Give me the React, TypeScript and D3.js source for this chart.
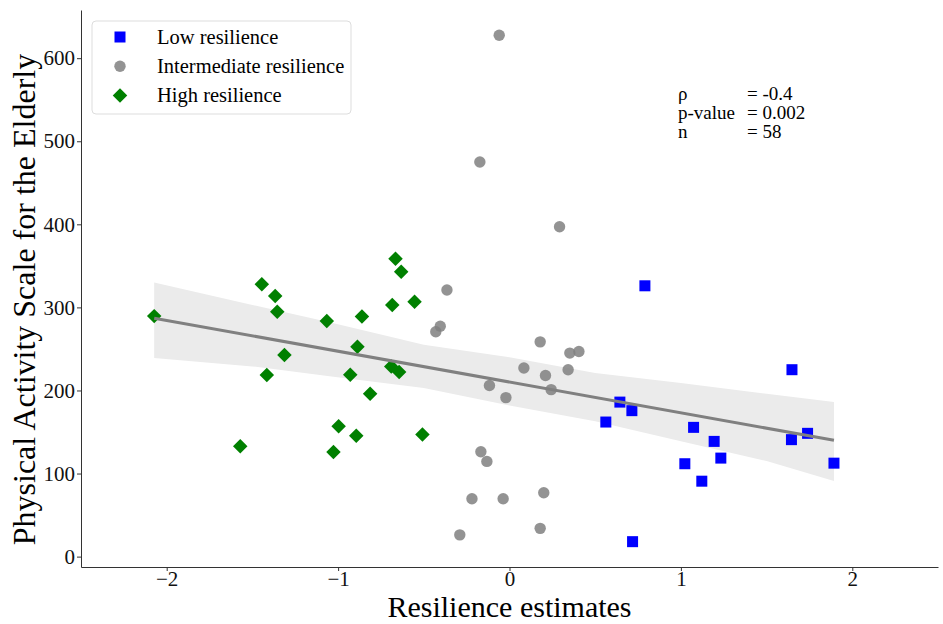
// ResilienceScatter.tsx
import React, { useRef, useEffect } from "react";
import * as d3 from "d3";

// Low resilience (blue squares)
const lowX = [0.79, 1.648, 0.644, 0.714, 0.562, 1.074, 1.194, 1.233, 1.023, 1.122, 1.645, 1.739, 1.893, 0.718];
const lowY = [326, 225, 186, 175.7, 162, 155.6, 138.7, 118.6, 111.8, 90.8, 140.8, 148.4, 112.5, 18];

// Intermediate resilience (grey circles)
const midX = [-0.06, -0.173, 0.292, -0.365, -0.404, -0.43, 0.179, 0.352, 0.405, 0.084, 0.21, 0.342, -0.117, 0.243, -0.021, -0.167, -0.132, -0.219, -0.037, 0.2, -0.29, 0.179];
const midY = [627.6, 475, 397, 321, 277.4, 270.6, 258.5, 245, 247, 227, 218, 225, 206, 201, 191.4, 126.3, 114.6, 69.6, 69.6, 76.8, 26.2, 34];

// High resilience (green diamonds)
const highX = [-2.073, -1.445, -1.367, -1.355, -1.066, -1.313, -1.416, -1.571, -0.665, -0.632, -0.684, -0.554, -0.861, -0.887, -0.69, -0.644, -0.929, -0.813, -0.997, -0.894, -0.508, -1.027];
const highY = [289.5, 328, 313.6, 294.7, 283.5, 242.8, 218.7, 133, 358.6, 343, 303, 306.8, 289, 252.5, 229, 222.3, 219, 196, 157, 145.6, 147, 125.8];

// regression line and confidence band
const fitX = [-2.073, 1.893];
const fitY = [287, 140];
const bandX = [-2.073, -1.5, -1.05, -0.5, 0, 0.5, 1.0, 1.5, 1.893];
const bandUpper = [330, 303, 282, 255, 240, 221, 209, 196, 186];
const bandLower = [239, 229, 217, 203, 182, 163, 139, 115, 91];

const xTicks = [-2, -1, 0, 1, 2];
const yTicks = [0, 100, 200, 300, 400, 500, 600];

const legendLabels = ["Low resilience", "Intermediate resilience", "High resilience"];
const statLabels = ["ρ", "p-value", "n"];
const statValues = ["= -0.4", "= 0.002", "= 58"];

const FONT = "'Liberation Serif', 'Times New Roman', serif";

const App = () => {
  const svgRef = useRef(null);

  useEffect(() => {
    const width = 943;
    const height = 624;
    const margin = { top: 10, right: 5, bottom: 57, left: 81 };

    const svg = d3.select(svgRef.current);
    svg.selectAll("*").remove();
    svg.attr("width", width).attr("height", height);

    const x = d3.scaleLinear().domain([-2.5, 2.5]).range([margin.left, width - margin.right]);
    const y = d3.scaleLinear().domain([-12.5, 658]).range([height - margin.bottom, margin.top]);

    // confidence band
    const band = bandX.map((d, i) => ({ x: d, lo: bandLower[i], hi: bandUpper[i] }));
    svg
      .append("path")
      .datum(band)
      .attr("fill", "#ebebeb")
      .attr(
        "d",
        d3
          .area()
          .x((d) => x(d.x))
          .y0((d) => y(d.lo))
          .y1((d) => y(d.hi))
      );

    // points
    const low = lowX.map((d, i) => [d, lowY[i]]);
    const mid = midX.map((d, i) => [d, midY[i]]);
    const high = highX.map((d, i) => [d, highY[i]]);

    svg
      .append("g")
      .selectAll("circle")
      .data(mid)
      .join("circle")
      .attr("cx", (d) => x(d[0]))
      .attr("cy", (d) => y(d[1]))
      .attr("r", 5.7)
      .attr("fill", "#808080")
      .attr("opacity", 0.85);

    const sq = 11;
    svg
      .append("g")
      .selectAll("rect")
      .data(low)
      .join("rect")
      .attr("x", (d) => x(d[0]) - sq / 2)
      .attr("y", (d) => y(d[1]) - sq / 2)
      .attr("width", sq)
      .attr("height", sq)
      .attr("fill", "#0000ff");

    svg
      .append("g")
      .selectAll("path")
      .data(high)
      .join("path")
      .attr("transform", (d) => `translate(${x(d[0])},${y(d[1])}) rotate(45)`)
      .attr("d", d3.symbol().type(d3.symbolSquare).size(105))
      .attr("fill", "#008000");

    // fit line
    svg
      .append("path")
      .datum(fitX.map((d, i) => [d, fitY[i]]))
      .attr("fill", "none")
      .attr("stroke", "#808080")
      .attr("stroke-width", 3)
      .attr("d", d3.line().x((d) => x(d[0])).y((d) => y(d[1])));

    // axes
    const xAxis = svg
      .append("g")
      .attr("transform", `translate(0,${height - margin.bottom})`)
      .call(
        d3
          .axisBottom(x)
          .tickValues(xTicks)
          .tickSize(4)
          .tickPadding(2)
          .tickSizeOuter(0)
          .tickFormat((d) => d3.format("d")(d).replace("-", "−"))
      );
    const yAxis = svg
      .append("g")
      .attr("transform", `translate(${margin.left},0)`)
      .call(d3.axisLeft(y).tickValues(yTicks).tickSize(4).tickSizeOuter(0));

    [xAxis, yAxis].forEach((g) => {
      g.selectAll("path").attr("stroke", "#333");
      g.selectAll("line").attr("stroke", "#333");
      g.selectAll("text").attr("font-family", FONT).attr("font-size", 21).attr("fill", "#111");
    });
    xAxis.selectAll("text").attr("dy", "0.6em");
    yAxis.selectAll("text").attr("x", -6);

    // axis labels
    svg
      .append("text")
      .attr("x", x(0))
      .attr("y", 617.3)
      .attr("text-anchor", "middle")
      .attr("font-family", FONT)
      .attr("font-size", 30)
      .text("Resilience estimates");

    svg
      .append("text")
      .attr("transform", `translate(35,${(margin.top + height - margin.bottom) / 2 + 11}) rotate(-90)`)
      .attr("text-anchor", "middle")
      .attr("font-family", FONT)
      .attr("font-size", 32)
      .text("Physical Activity Scale for the Elderly");

    // legend
    const legend = svg.append("g");
    legend
      .append("rect")
      .attr("x", 92)
      .attr("y", 21)
      .attr("width", 259)
      .attr("height", 93)
      .attr("rx", 4)
      .attr("fill", "white")
      .attr("stroke", "#dddddd");

    legendLabels.forEach((label, i) => {
      const cy = 37 + i * 29.3;
      if (i === 0) {
        legend.append("rect").attr("x", 120 - 5.5).attr("y", cy - 5.5).attr("width", 11).attr("height", 11).attr("fill", "#0000ff");
      } else if (i === 1) {
        legend.append("circle").attr("cx", 120).attr("cy", cy).attr("r", 5.7).attr("fill", "#808080").attr("opacity", 0.85);
      } else {
        legend
          .append("path")
          .attr("transform", `translate(120,${cy}) rotate(45)`)
          .attr("d", d3.symbol().type(d3.symbolSquare).size(105))
          .attr("fill", "#008000");
      }
      legend
        .append("text")
        .attr("x", 157)
        .attr("y", cy + 6.5)
        .attr("font-family", FONT)
        .attr("font-size", 20.5)
        .text(label);
    });

    // statistics annotation
    statLabels.forEach((label, i) => {
      svg
        .append("text")
        .attr("x", 678)
        .attr("y", 100 + i * 19)
        .attr("font-family", FONT)
        .attr("font-size", 19)
        .text(label);
      svg
        .append("text")
        .attr("x", 747)
        .attr("y", 100 + i * 19)
        .attr("font-family", FONT)
        .attr("font-size", 19)
        .text(statValues[i]);
    });
  }, []);

  return <svg ref={svgRef} style={{ position: "absolute", left: 0, top: 0 }}></svg>;
};

export default App;
